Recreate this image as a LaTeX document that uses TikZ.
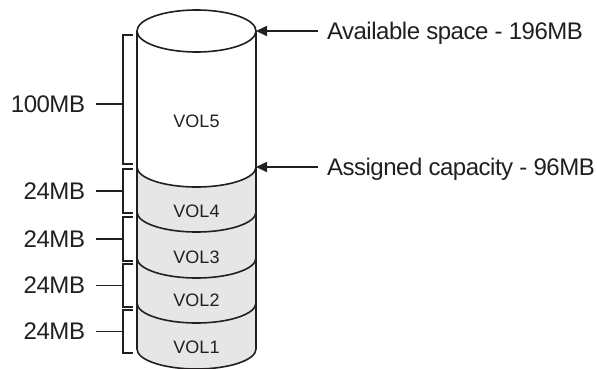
\documentclass[tikz,border=0pt]{standalone}
\usepackage{fontspec}
\setmainfont{Liberation Sans}
\newfontfamily\labelfont[LetterSpace=-2]{Liberation Sans}
\usepackage{tikz}
\usetikzlibrary{arrows.meta}
\usetikzlibrary{positioning}
\definecolor{volgray}{RGB}{230,230,231}
\definecolor{inkgray}{RGB}{35,31,32}
\tikzstyle{vol_label}=[font=\fontsize{18}{20}\selectfont, text=inkgray, inner sep=0pt]
\tikzstyle{size_label}=[font=\labelfont\fontsize{24}{26}\selectfont, text=inkgray, anchor=east,
    inner sep=0pt, text depth=0pt, outer xsep=11pt]
\tikzstyle{info_label}=[font=\labelfont\fontsize{24}{26}\selectfont, text=inkgray, anchor=west,
    inner sep=0pt, text depth=0pt, outer xsep=9pt]
\tikzstyle{bracket}=[line width=1.6pt, inkgray]
\tikzstyle{pointer}=[line width=1.6pt, inkgray, -{Triangle[length=11pt, width=10pt]}]

\begin{document}
\begin{tikzpicture}[x=1pt, y=1pt, line width=1.6pt]
              \useasboundingbox (0,0) rectangle (597,-369);
              % disk body
              \fill[volgray] (137,-167) arc[start angle=180, end angle=360, x radius=59.5, y radius=20]
                  -- (256,-349) arc[start angle=0, end angle=-180, x radius=59.5, y radius=20] -- cycle;
              \draw[inkgray] (137,-31) -- (137,-349) arc[start angle=180, end angle=360, x radius=59.5, y radius=20] -- (256,-31);
              \draw[inkgray, fill=white] (196.5,-31) ellipse[x radius=59.5, y radius=21];
              \foreach \y in {167,212,258,303}
                  \draw[inkgray] (137,-\y) arc[start angle=180, end angle=360, x radius=59.5, y radius=20];
              \node[vol_label] (vol5) at (196.5,-121){VOL5};
              \node[vol_label] (vol4) at (196.5,-211){VOL4};
              \node[vol_label] (vol3) at (196.5,-257){VOL3};
              \node[vol_label] (vol2) at (196.5,-300){VOL2};
              \node[vol_label] (vol1) at (196.5,-347){VOL1};
              % brackets
              \coordinate (br5) at (123,-104);
              \coordinate (br4) at (123,-191);
              \coordinate (br3) at (123,-239);
              \coordinate (br2) at (123,-285.5);
              \coordinate (br1) at (123,-331.5);
              \draw[bracket] (133,-35) -| (br5) |- (133,-164);
              \draw[bracket] (133,-169) -| (br4) |- (133,-213);
              \draw[bracket] (133,-217) -| (br3) |- (133,-261);
              \draw[bracket] (133,-264) -| (br2) |- (133,-307);
              \draw[bracket] (133,-310) -| (br1) |- (133,-353);
              \node[size_label] (size5) at (96,-104){100MB};
              \node[size_label] (size4) at (96,-191){24MB};
              \node[size_label] (size3) at (96,-239){24MB};
              \node[size_label] (size2) at (96,-285.5){24MB};
              \node[size_label] (size1) at (96,-331.5){24MB};
              \draw[bracket](size5) -- (br5);
              \draw[bracket](size4) -- (br4);
              \draw[bracket](size3) -- (br3);
              \draw[bracket](size2) -- (br2);
              \draw[bracket](size1) -- (br1);
              % pointers
              \coordinate (top_edge) at (256,-31);
              \coordinate (used_edge) at (256,-167);
              \node[info_label] (avail) at (318,-31){Available space - 196MB};
              \node[info_label] (assigned) at (318,-167){Assigned capacity - 96MB};
              \draw[pointer](avail.west) -- (top_edge);
              \draw[pointer](assigned.west) -- (used_edge);
            \end{tikzpicture}
\end{document}
